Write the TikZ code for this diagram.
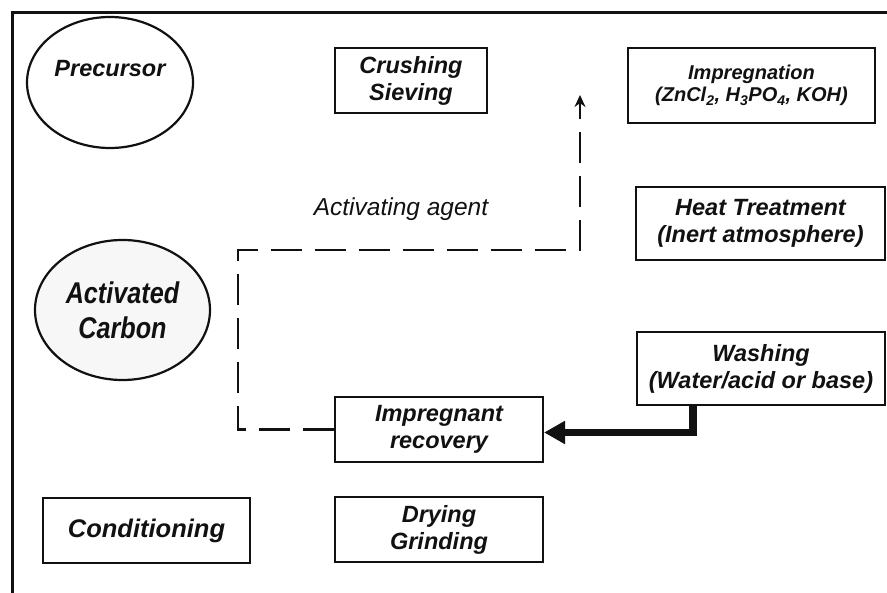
\documentclass[tikz,border=0pt]{standalone}
\usepackage{fontspec}
\setmainfont{Liberation Sans}
\newfontfamily\etroite[FakeStretch=0.84]{Liberation Sans}
\usepackage{tikz}
\usetikzlibrary{arrows.meta, shapes.geometric}
\definecolor{encre}{HTML}{111111}
\tikzset{
  etape/.style={rectangle, draw=encre, line width=2.2pt, text=encre,
    font=\fontsize{23.5}{27}\selectfont\bfseries\itshape, align=center,
    inner sep=1pt},
  ovale/.style={ellipse, draw=encre, line width=2.2pt, text=encre,
    font=\fontsize{23.5}{27}\selectfont\bfseries\itshape, align=center, inner sep=0pt},
  pointille/.style={-{Stealth[length=12pt, width=11pt]}, line width=2.6pt,
    color=encre, dash pattern=on 31pt off 13pt},
  flecheepaisse/.style={-{Triangle[length=21pt, width=22pt]}, line width=7.5pt, color=encre},
  etiquette/.style={font=\fontsize{24.5}{28}\selectfont\itshape, text=encre},
}

\begin{document}
\begin{tikzpicture}[x=1pt, y=-1pt]
    \useasboundingbox (0,0) rectangle (887,593);
    % cadre
    \draw[line width=3pt, encre] (887,13) -- (12,13) -- (12,593);

    \node[ovale, minimum width=166pt, minimum height=131pt] (precurseur) at (110,82.5)
      {\raisebox{6pt}[0pt][0pt]{Precursor}};
    \node[etape, minimum width=152pt, minimum height=65pt] (broyage) at (411,80.5)
      {Crushing\\Sieving};
    \node[etape, minimum width=247pt, minimum height=75pt,
          font=\fontsize{20}{22.5}\selectfont\bfseries\itshape] (impregnation) at (751.5,85.5)
      {Impregnation\\(ZnCl\textsubscript{2}, H\textsubscript{3}PO\textsubscript{4}, KOH)};
    \node[etape, minimum width=249pt, minimum height=73pt] (traitement) at (760.5,223.5)
      {Heat Treatment\\(Inert atmosphere)};
    \node[etape, minimum width=248pt, minimum height=73pt] (lavage) at (761,368.5)
      {Washing\\(Water/acid or base)};
    \node[etape, minimum width=208pt, minimum height=65pt] (recuperation) at (439,429.5)
      {Impregnant\\recovery};
    \node[etape, minimum width=207pt, minimum height=65pt,
          font=\fontsize{25.5}{29}\selectfont\bfseries\itshape] (conditionnement) at (146.5,530.5)
      {Conditioning};
    \node[etape, minimum width=208pt, minimum height=65pt] (sechage) at (439,529.5)
      {Drying\\Grinding};
    \node[ovale, minimum width=175pt, minimum height=140pt, fill=black!3,
          font=\fontsize{30}{35}\selectfont\etroite\bfseries\itshape] (charbon) at (122.5,310)
      {Activated\\Carbon};
    \node[etiquette] (agent) at (401,209) {Activating agent};

    % recyclage de l'agent
    \coordinate (retour) at (238,250);
    \coordinate (versimpregnation) at (580,95);
    \draw[pointille] (recuperation.west) -| (retour) -| (versimpregnation);
    \draw[flecheepaisse] ([xshift=-68pt]lavage.south) |- ([yshift=-3pt]recuperation.east);
\end{tikzpicture}
\end{document}
